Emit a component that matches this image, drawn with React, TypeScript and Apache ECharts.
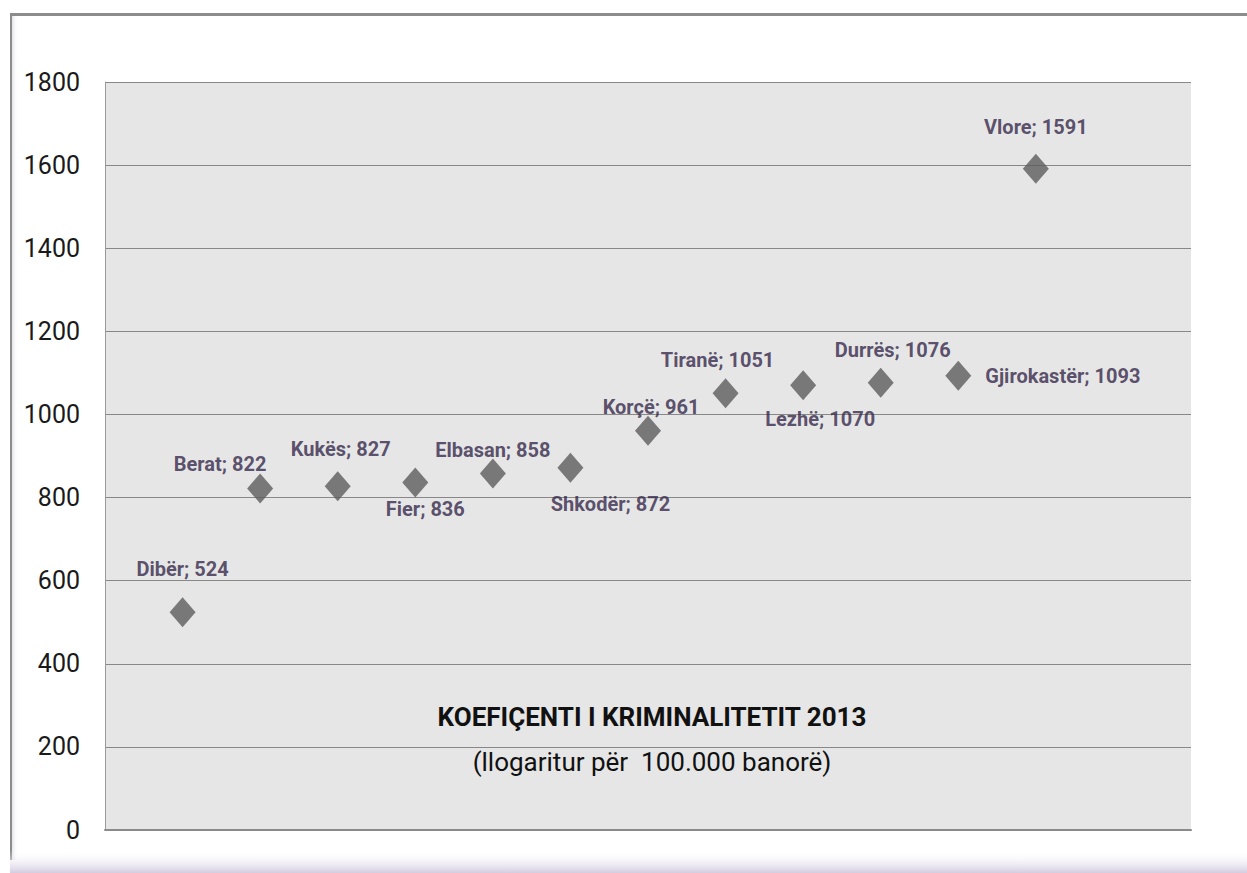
import React, { useEffect, useRef } from "react";
import * as echarts from "echarts";

const cities = ["Dibër", "Berat", "Kukës", "Fier", "Elbasan", "Shkodër", "Korçë", "Tiranë", "Lezhë", "Durrës", "Gjirokastër", "Vlore"];
const values = [524, 822, 827, 836, 858, 872, 961, 1051, 1070, 1076, 1093, 1591];
const positions = [1, 2, 3, 4, 5, 6, 7, 8, 9, 10, 11, 12];
const yTicks = [0, 200, 400, 600, 800, 1000, 1200, 1400, 1600, 1800];
const titleText = "KOEFIÇENTI I KRIMINALITETIT 2013";
const subtitleText = "(llogaritur për  100.000 banorë)";

// label layout (offset of label centre from marker centre)
const labelOffsets: (number[] | null)[] = [
  [0, -43], [-40, -24], [3, -37], [10, 26], [0, -23], [40, 36],
  [3, -24], [-8, -33], [17, 34], [12, -33], null, [0, -42],
];

export default function App() {
  const ref = useRef<HTMLDivElement>(null);
  useEffect(() => {
    if (!ref.current) return;
    const chart = echarts.init(ref.current, undefined, { renderer: "svg" });
    const labelColor = "#35284a";
    const data = cities.map((c, i) => {
      const off = labelOffsets[i];
      const label = off
        ? { position: "inside", offset: off, align: "center", verticalAlign: "middle" }
        : { position: "right", distance: 14 };
      return { value: [positions[i], values[i]], name: c, label };
    });
    chart.setOption({
      animation: false,
      backgroundColor: "#ffffff",
      grid: {
        left: 105, top: 82, width: 1086, height: 748,
        show: true, backgroundColor: "#e6e6e6", borderWidth: 0,
      },
      xAxis: {
        type: "value", min: 0, max: 14,
        axisLine: { show: true, onZero: false, lineStyle: { color: "#8a8a8a", width: 2 } },
        axisTick: { show: false }, axisLabel: { show: false }, splitLine: { show: false },
      },
      yAxis: {
        type: "value", min: yTicks[0], max: yTicks[yTicks.length - 1], interval: 200,
        axisLine: { show: true, lineStyle: { color: "#9a9a9a", width: 1 } },
        axisTick: { show: false },
        axisLabel: {
          margin: 25, color: "#1a1a1a", fontSize: 25, fontFamily: "Roboto",
          formatter: (v: number) => String(v),
        },
        splitLine: { show: true, lineStyle: { color: "#888888", width: 1 } },
      },
      series: [
        {
          type: "scatter",
          symbol: "diamond",
          symbolSize: [26, 30],
          itemStyle: { color: "#5c5c5c" },
          label: {
            show: true,
            color: labelColor,
            fontSize: 20,
            fontWeight: "bold",
            fontFamily: "Roboto",
            formatter: (p: any) => `${p.name}; ${p.value[1]}`,
          },
          data,
        },
      ],
      graphic: [
        { type: "rect", left: 11, top: 13, shape: { width: 1236, height: 3 }, style: { fill: "#8c8c8c" }, silent: true },
        { type: "rect", left: 10, top: 13, shape: { width: 2, height: 847 }, style: { fill: "#8c8c8c" }, silent: true },
        {
          type: "rect", left: 12, top: 16, shape: { width: 6, height: 844 }, silent: true,
          style: { fill: new echarts.graphic.LinearGradient(0, 0, 1, 0, [{ offset: 0, color: "#e4e4ea" }, { offset: 1, color: "rgba(255,255,255,0)" }]) },
        },
        {
          type: "rect", left: 10, top: 850, shape: { width: 1237, height: 23 }, silent: true,
          style: { fill: new echarts.graphic.LinearGradient(0, 0, 0, 1, [{ offset: 0, color: "rgba(255,255,255,0)" }, { offset: 1, color: "#d3cce0" }]) },
        },
        {
          type: "text", x: 652, y: 717, silent: true,
          style: { text: titleText, fill: "#111111", fontSize: 26, fontWeight: "bold", fontFamily: "Roboto", textAlign: "center", textVerticalAlign: "middle" },
        },
        {
          type: "text", x: 652, y: 762, silent: true,
          style: { text: subtitleText, fill: "#111111", fontSize: 26, fontFamily: "Roboto", textAlign: "center", textVerticalAlign: "middle" },
        },
      ],
    });
    return () => chart.dispose();
  }, []);
  return <div ref={ref} style={{ position: "fixed", left: 0, top: 0, width: 1247, height: 873 }} />;
}
